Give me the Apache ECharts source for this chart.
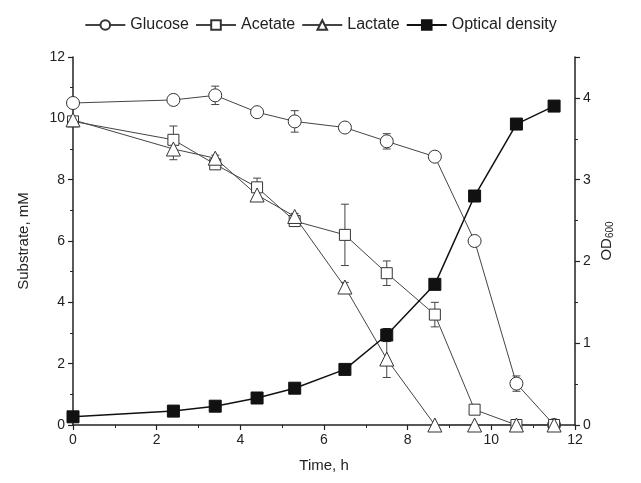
<!DOCTYPE html>
<html><head><meta charset="utf-8">
<script src="https://cdn.jsdelivr.net/npm/echarts@6/dist/echarts.min.js"></script>
<style>html,body{margin:0;padding:0;background:#fff}#c{width:641px;height:483px}</style>
</head><body><div id="c"></div>
<script>
var times = [0, 2.4, 3.4, 4.4, 5.3, 6.5, 7.5, 8.65, 9.6, 10.6, 11.5];
var glucose = [10.5, 10.6, 10.75, 10.2, 9.9, 9.7, 9.25, 8.75, 6.0, 1.35, 0.0];
var glucoseErr = [0, 0.15, 0.3, 0.15, 0.35, 0, 0.25, 0.15, 0, 0.25, 0];
var acetate = [9.9, 9.3, 8.5, 7.75, 6.65, 6.2, 4.95, 3.6, 0.5, 0.0, 0.0];
var acetateErr = [0, 0.45, 0.1, 0.3, 0.1, 1.0, 0.4, 0.4, 0.1, 0, 0];
var lactate = [9.95, 9.0, 8.7, 7.5, 6.8, 4.5, 2.15, 0.0, 0.0, 0.0, 0.0];
var lactateErr = [0, 0.35, 0.1, 0.2, 0.1, 0.15, 0.6, 0, 0, 0, 0];
var od = [0.1, 0.17, 0.23, 0.33, 0.45, 0.68, 1.1, 1.72, 2.8, 3.68, 3.9];
var odErr = [0, 0, 0, 0, 0, 0, 0.08, 0, 0, 0, 0];

function pts(ys){ return times.map(function(t,i){ return [t, ys[i]]; }); }
function errPts(ys, es){ return times.map(function(t,i){ return [t, ys[i], es[i]]; }).filter(function(d){ return d[2] > 0; }); }

function errSeries(ys, es, yIdx, color){
  return {
    type: 'custom', yAxisIndex: yIdx, z: 1, silent: true,
    data: errPts(ys, es),
    renderItem: function(params, api){
      var x = api.value(0), y = api.value(1), e = api.value(2);
      var top = api.coord([x, y + e]), bot = api.coord([x, y - e]);
      var w = 4;
      var st = {stroke: color, lineWidth: 1};
      return {type: 'group', children: [
        {type: 'line', shape: {x1: top[0], y1: top[1], x2: bot[0], y2: bot[1]}, style: st},
        {type: 'line', shape: {x1: top[0]-w, y1: top[1], x2: top[0]+w, y2: top[1]}, style: st},
        {type: 'line', shape: {x1: bot[0]-w, y1: bot[1], x2: bot[0]+w, y2: bot[1]}, style: st}
      ]};
    }
  };
}

var axisLbl = {color: '#222', fontSize: 14, fontFamily: 'Liberation Sans'};
var axLine = {show: true, lineStyle: {color: '#222', width: 1.5}};
var tick = {show: true, inside: false, length: 5, lineStyle: {color: '#222', width: 1.2}};
var minor = {show: true, splitNumber: 2, length: 3, lineStyle: {color: '#222', width: 1}};

var chart = echarts.init(document.getElementById('c'));
chart.setOption({
  animation: false,
  backgroundColor: '#fff',
  textStyle: {fontFamily: 'Liberation Sans'},
  legend: {
    top: 12, left: 'center', itemWidth: 40, itemHeight: 12, itemGap: 6,
    textStyle: {fontSize: 16, color: '#222', fontFamily: 'Liberation Sans'},
    data: ['Glucose', 'Acetate', 'Lactate', 'Optical density']
  },
  grid: {left: 73, right: 66, top: 57, bottom: 58},
  xAxis: {
    type: 'value', min: 0, max: 12, interval: 2,
    name: 'Time, h', nameLocation: 'middle', nameGap: 33,
    nameTextStyle: {fontSize: 15, color: '#222'},
    axisLine: axLine, axisTick: tick, minorTick: minor,
    axisLabel: axisLbl, splitLine: {show: false}
  },
  yAxis: [{
    type: 'value', min: 0, max: 12, interval: 2,
    name: 'Substrate, mM', nameLocation: 'middle', nameGap: 42, nameRotate: 90,
    nameTextStyle: {fontSize: 15, color: '#222'},
    axisLine: axLine, axisTick: tick, minorTick: minor,
    axisLabel: axisLbl, splitLine: {show: false}
  }, {
    type: 'value', min: 0, max: 4.5, interval: 1, position: 'right',
    name: '{a|OD}{b|600}', nameLocation: 'middle', nameGap: 24, nameRotate: 90, nameMoveOverlap: false,
    nameTextStyle: {rich: {a: {fontSize: 15, color: '#222'}, b: {fontSize: 10, color: '#222', verticalAlign: 'bottom', padding: [6,0,0,0]}}},
    axisLine: axLine, axisTick: tick, minorTick: minor,
    axisLabel: Object.assign({showMaxLabel: false}, axisLbl), splitLine: {show: false}
  }],
  series: [
    errSeries(glucose, glucoseErr, 0, '#444'),
    errSeries(acetate, acetateErr, 0, '#444'),
    errSeries(lactate, lactateErr, 0, '#444'),
    errSeries(od, odErr, 1, '#222'),
    {name: 'Glucose', type: 'line', yAxisIndex: 0, data: pts(glucose), z: 3,
     symbol: 'circle', symbolSize: 13,
     lineStyle: {color: '#444', width: 1}, itemStyle: {color: '#fff', borderColor: '#333', borderWidth: 1}},
    {name: 'Acetate', type: 'line', yAxisIndex: 0, data: pts(acetate), z: 3,
     symbol: 'rect', symbolSize: 11,
     lineStyle: {color: '#444', width: 1}, itemStyle: {color: '#fff', borderColor: '#333', borderWidth: 1}},
    {name: 'Lactate', type: 'line', yAxisIndex: 0, data: pts(lactate), z: 3,
     symbol: 'triangle', symbolSize: 14,
     lineStyle: {color: '#444', width: 1}, itemStyle: {color: '#fff', borderColor: '#333', borderWidth: 1}},
    {name: 'Optical density', type: 'line', yAxisIndex: 1, data: pts(od), z: 4,
     symbol: 'rect', symbolSize: 12,
     lineStyle: {color: '#111', width: 1.5}, itemStyle: {color: '#111', borderColor: '#111', borderWidth: 1}}
  ]
});
</script></body></html>
